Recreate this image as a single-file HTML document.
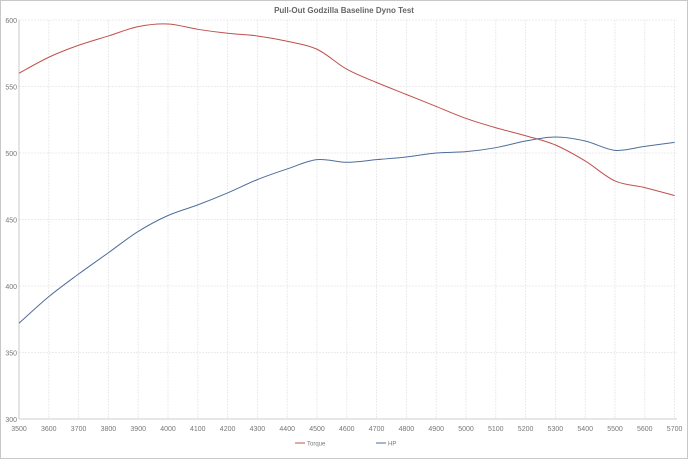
<!DOCTYPE html>
<html><head><meta charset="utf-8"><style>
html,body{margin:0;padding:0;background:#fff}
svg{display:block;font-family:"Liberation Sans",sans-serif}
</style></head><body>
<svg width="688" height="459" viewBox="0 0 688 459" xmlns="http://www.w3.org/2000/svg">
<rect x="0.5" y="0.5" width="687" height="458" fill="#fff" stroke="#c8c8c8"/>
<text x="344" y="13" text-anchor="middle" font-size="8" font-weight="bold" fill="#666">Pull-Out Godzilla Baseline Dyno Test</text>
<g stroke="#e6e6e6" stroke-width="0.8" stroke-dasharray="2,1">
<line x1="48.8" y1="20" x2="48.8" y2="419"/><line x1="78.6" y1="20" x2="78.6" y2="419"/><line x1="108.4" y1="20" x2="108.4" y2="419"/><line x1="138.2" y1="20" x2="138.2" y2="419"/><line x1="168" y1="20" x2="168" y2="419"/><line x1="197.8" y1="20" x2="197.8" y2="419"/><line x1="227.6" y1="20" x2="227.6" y2="419"/><line x1="257.4" y1="20" x2="257.4" y2="419"/><line x1="287.2" y1="20" x2="287.2" y2="419"/><line x1="317" y1="20" x2="317" y2="419"/><line x1="346.8" y1="20" x2="346.8" y2="419"/><line x1="376.6" y1="20" x2="376.6" y2="419"/><line x1="406.4" y1="20" x2="406.4" y2="419"/><line x1="436.2" y1="20" x2="436.2" y2="419"/><line x1="466" y1="20" x2="466" y2="419"/><line x1="495.8" y1="20" x2="495.8" y2="419"/><line x1="525.6" y1="20" x2="525.6" y2="419"/><line x1="555.4" y1="20" x2="555.4" y2="419"/><line x1="585.2" y1="20" x2="585.2" y2="419"/><line x1="615" y1="20" x2="615" y2="419"/><line x1="644.8" y1="20" x2="644.8" y2="419"/><line x1="674.6" y1="20" x2="674.6" y2="419"/>
<line x1="19" y1="20" x2="677" y2="20"/><line x1="19" y1="86.5" x2="677" y2="86.5"/><line x1="19" y1="153" x2="677" y2="153"/><line x1="19" y1="219.5" x2="677" y2="219.5"/><line x1="19" y1="286" x2="677" y2="286"/><line x1="19" y1="352.5" x2="677" y2="352.5"/>
</g>
<line x1="19" y1="20" x2="19" y2="419" stroke="#bbb" stroke-width="0.8"/>
<line x1="19" y1="419" x2="677" y2="419" stroke="#bbb" stroke-width="0.8"/>
<g font-size="7" fill="#777" text-anchor="end">
<text x="17" y="23">600</text><text x="17" y="89.5">550</text><text x="17" y="156">500</text><text x="17" y="222.5">450</text><text x="17" y="289">400</text><text x="17" y="355.5">350</text><text x="17" y="422">300</text>
</g>
<g font-size="7" fill="#777" text-anchor="middle">
<text x="19" y="431">3500</text><text x="48.8" y="431">3600</text><text x="78.6" y="431">3700</text><text x="108.4" y="431">3800</text><text x="138.2" y="431">3900</text><text x="168" y="431">4000</text><text x="197.8" y="431">4100</text><text x="227.6" y="431">4200</text><text x="257.4" y="431">4300</text><text x="287.2" y="431">4400</text><text x="317" y="431">4500</text><text x="346.8" y="431">4600</text><text x="376.6" y="431">4700</text><text x="406.4" y="431">4800</text><text x="436.2" y="431">4900</text><text x="466" y="431">5000</text><text x="495.8" y="431">5100</text><text x="525.6" y="431">5200</text><text x="555.4" y="431">5300</text><text x="585.2" y="431">5400</text><text x="615" y="431">5500</text><text x="644.8" y="431">5600</text><text x="674.6" y="431">5700</text>
</g>
<path id="tq" fill="none" stroke="#c0504d" stroke-width="1"/>
<path id="hp" fill="none" stroke="#4f6d9a" stroke-width="1"/>
<line x1="295" y1="443" x2="305" y2="443" stroke="#c0504d"/>
<text x="307" y="445.5" font-size="6" fill="#777">Torque</text>
<line x1="376" y1="443" x2="386" y2="443" stroke="#4f6d9a"/>
<text x="388" y="445.5" font-size="6" fill="#777">HP</text>
</svg>
<script>
function path(vals){
  var p=vals.map(function(v,i){return [19+i*29.8,20+(600-v)*1.33];});
  var d="M"+p[0][0]+","+p[0][1];
  for(var i=0;i<p.length-1;i++){
    var p0=p[i-1]||p[i],p1=p[i],p2=p[i+1],p3=p[i+2]||p2;
    var c1=[p1[0]+(p2[0]-p0[0])/6,p1[1]+(p2[1]-p0[1])/6];
    var c2=[p2[0]-(p3[0]-p1[0])/6,p2[1]-(p3[1]-p1[1])/6];
    d+=" C"+c1+" "+c2+" "+p2;
  }
  return d;
}
document.getElementById("tq").setAttribute("d",path([560,572,581,588,595,597,593,590,588,584,578,563,553,544,535,526,519,513,506,494,479,474,468]));
document.getElementById("hp").setAttribute("d",path([372,392,409,425,441,453,461,470,480,488,495,493,495,497,500,501,504,509,512,509,502,505,508]));
</script>
</body></html>
